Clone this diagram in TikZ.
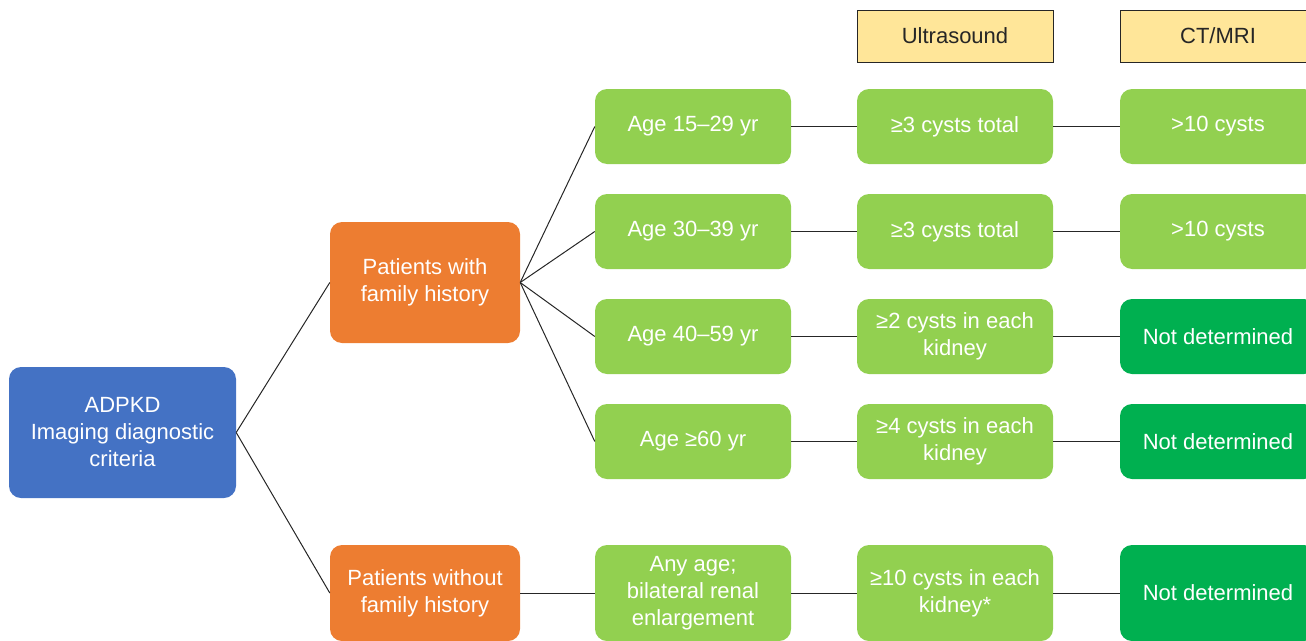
\documentclass[tikz,border=0pt]{standalone}
\usepackage{fontspec}
\setmainfont{Liberation Sans}
\definecolor{cblue}{HTML}{4472C4}
\definecolor{corange}{HTML}{ED7D31}
\definecolor{clgreen}{HTML}{92D050}
\definecolor{cdgreen}{HTML}{00B050}
\definecolor{cyellow}{HTML}{FFE699}
\definecolor{cline}{HTML}{262626}
\begin{document}
\begin{tikzpicture}[x=1pt,y=-1pt,
  box/.style={rectangle, rounded corners=12pt, draw=none, inner sep=2pt, align=center,
    text=white, font=\fontsize{22}{27}\selectfont},
  gbox/.style={box, fill=clgreen, minimum width=196pt, minimum height=75pt},
  dbox/.style={box, fill=cdgreen, minimum width=196pt, minimum height=75pt},
  obox/.style={box, fill=corange, minimum width=190pt},
  hbox/.style={rectangle, fill=cyellow, draw=cline, line width=1pt, minimum width=196pt,
    minimum height=52pt, inner sep=0pt, text=cline, font=\fontsize{22}{27}\selectfont},
  conn/.style={draw=cline, line width=1pt}]
\useasboundingbox (0,0) rectangle (1306,640);
\clip (0,0) rectangle (1306,640);
% headers
\node[hbox] (us) at (955,36) {Ultrasound};
\node[hbox] (ct) at (1218,36) {CT/MRI};
% root
\node[box, fill=cblue, minimum width=227pt, minimum height=131pt] (root) at (122.5,432.5) {ADPKD\\Imaging diagnostic\\criteria};
% orange
\node[obox, minimum height=121pt] (fh) at (425,282.5) {Patients with\\family history};
\node[obox, minimum height=96pt] (nfh) at (425,593) {Patients without\\family history};
% column 1
\node[gbox] (a1) at (693,126.5) {Age 15–29 yr};
\node[gbox] (a2) at (693,231.5) {Age 30–39 yr};
\node[gbox] (a3) at (693,336.5) {Age 40–59 yr};
\node[gbox] (a4) at (693,441.5) {Age ≥60 yr};
\node[gbox, minimum height=96pt] (a5) at (693,593) {Any age;\\bilateral renal\\enlargement};
% column 2
\node[gbox] (u1) at (955,126.5) {≥3 cysts total};
\node[gbox] (u2) at (955,231.5) {≥3 cysts total};
\node[gbox] (u3) at (955,336.5) {≥2 cysts in each\\kidney};
\node[gbox] (u4) at (955,441.5) {≥4 cysts in each\\kidney};
\node[gbox, minimum height=96pt] (u5) at (955,593) {≥10 cysts in each\\kidney*};
% column 3
\node[gbox] (c1) at (1218,126.5) {>10 cysts};
\node[gbox] (c2) at (1218,231.5) {>10 cysts};
\node[dbox] (c3) at (1218,336.5) {Not determined};
\node[dbox] (c4) at (1218,441.5) {Not determined};
\node[dbox, minimum height=96pt] (c5) at (1218,593) {Not determined};
% connectors
\draw[conn] (root.east) -- (fh.west);
\draw[conn] (root.east) -- (nfh.west);
\foreach \i in {1,2,3,4} {
  \draw[conn] (fh.east) -- (a\i.west);
}
\draw[conn] (nfh.east) -- (a5.west);
\foreach \i in {1,2,3,4,5} {
  \draw[conn] (a\i.east) -- (u\i.west);
  \draw[conn] (u\i.east) -- (c\i.west);
}
\end{tikzpicture}
\end{document}
